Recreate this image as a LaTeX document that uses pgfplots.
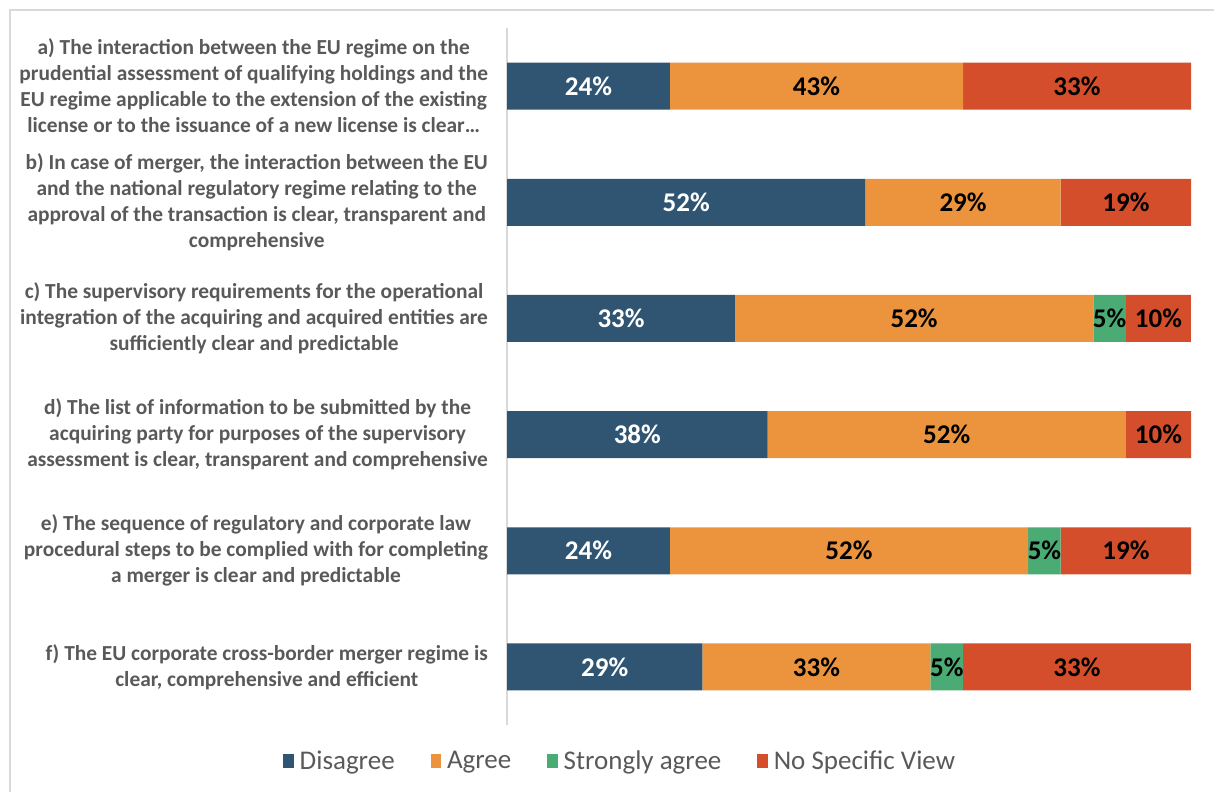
\documentclass[border=0pt]{standalone}
\usepackage{fontspec}
\setmainfont{Carlito}
\usepackage{pgfplots}
\usepackage{pgfplotstable}
\pgfplotsset{compat=1.18}
\definecolor{cDis}{HTML}{2F5573}
\definecolor{cAgr}{HTML}{EB943D}
\definecolor{cStr}{HTML}{4BAB74}
\definecolor{cNsv}{HTML}{D44E2B}
\definecolor{txtgrey}{HTML}{595959}
\definecolor{linegrey}{HTML}{D9D9D9}

\pgfplotstableread{
y dis agr str nsv
0 23.81 42.86 0 33.33
1 52.38 28.57 0 19.05
2 33.33 52.38 4.76 9.52
3 38.10 52.38 0 9.52
4 23.81 52.38 4.76 19.05
5 28.57 33.33 4.76 33.33
}\datatable

\pgfplotstableread{
x y lab
11.90 0 24
26.19 1 52
16.67 2 33
19.05 3 38
11.90 4 24
14.29 5 29
}\whitelabels

\pgfplotstableread{
x y lab
45.24 0 43
83.33 0 33
66.67 1 29
90.48 1 19
59.52 2 52
88.10 2 5
95.24 2 10
64.29 3 52
95.24 3 10
50.00 4 52
78.57 4 5
90.48 4 19
45.24 5 33
64.29 5 5
83.33 5 33
}\blacklabels

\pgfplotsset{legsq/.style={legend image code/.code={\fill[##1] (0pt,-3.3pt) rectangle (5.2pt,3.7pt);}}}

\begin{document}
\begin{tikzpicture}
\useasboundingbox (0pt,0pt) rectangle (607pt,396pt);
\draw[linegrey, line width=0.7pt] (5pt,0pt) -- (5pt,391pt) -- (607pt,391pt);
\begin{axis}[
  at={(253.5pt,33.5pt)}, anchor=south west,
  scale only axis, width=342pt, height=348.5pt,
  xbar stacked, bar width=23.5pt,
  xmin=0, xmax=100, ymin=-0.5, ymax=5.5, y dir=reverse,
  axis x line=none, axis y line*=left,
  y axis line style={linegrey, line width=0.8pt},
  xtick=\empty,
  ytick={0,1,2,3,4,5},
  major tick length=0pt,
  yticklabels={
    {a) The interaction between the EU regime on the\\prudential assessment of qualifying holdings and the\\EU regime applicable to the extension of the existing\\license or to the issuance of a new license is clear…},
    {b) In case of merger, the interaction between the EU\\and the national regulatory regime relating to the\\approval of the transaction is clear, transparent and\\comprehensive},
    {c) The supervisory requirements for the operational\\integration of the acquiring and acquired entities are\\sufficiently clear and predictable},
    {d) The list of information to be submitted by the\\acquiring party for purposes of the supervisory\\assessment is clear, transparent and comprehensive},
    {e) The sequence of regulatory and corporate law\\procedural steps to be complied with for completing\\a merger is clear and predictable},
    {f) The EU corporate cross-border merger regime is\\clear, comprehensive and efficient}
  },
  yticklabel style={align=center, anchor=east, text=txtgrey,
    font=\fontsize{10.7}{13}\selectfont\bfseries, xshift=-6pt},
  legend style={at={(0.167,-0.052)}, anchor=center, draw=none, fill=none,
    legend columns=4, font=\fontsize{13.5}{16}\selectfont, text=txtgrey,
    /tikz/every even column/.append style={column sep=16pt},
    /tikz/every odd column/.append style={column sep=1pt}},
]
\addplot[fill=cDis, draw=none, legsq] table[x=dis, y=y] {\datatable};
\addlegendentry{Disagree}
\addplot[fill=cAgr, draw=none, legsq] table[x=agr, y=y] {\datatable};
\addlegendentry{Agree}
\addplot[fill=cStr, draw=none, legsq] table[x=str, y=y] {\datatable};
\addlegendentry{Strongly agree}
\addplot[fill=cNsv, draw=none, legsq] table[x=nsv, y=y] {\datatable};
\addlegendentry{No Specific View}
\end{axis}
\begin{axis}[
  at={(253.5pt,33.5pt)}, anchor=south west,
  scale only axis, width=342pt, height=348.5pt,
  xmin=0, xmax=100, ymin=-0.5, ymax=5.5, y dir=reverse,
  hide axis, clip=false,
]
\addplot[draw=none, mark=none, nodes near coords={\pgfplotspointmeta\%}, point meta=explicit symbolic,
  nodes near coords align={center},
  every node near coord/.append style={text=white, font=\fontsize{13.5}{15}\selectfont\bfseries}]
  table[x=x, y=y, meta=lab] {\whitelabels};
\addplot[draw=none, mark=none, nodes near coords={\pgfplotspointmeta\%}, point meta=explicit symbolic,
  nodes near coords align={center},
  every node near coord/.append style={text=black, font=\fontsize{13.5}{15}\selectfont\bfseries}]
  table[x=x, y=y, meta=lab] {\blacklabels};
\end{axis}
\end{tikzpicture}
\end{document}
